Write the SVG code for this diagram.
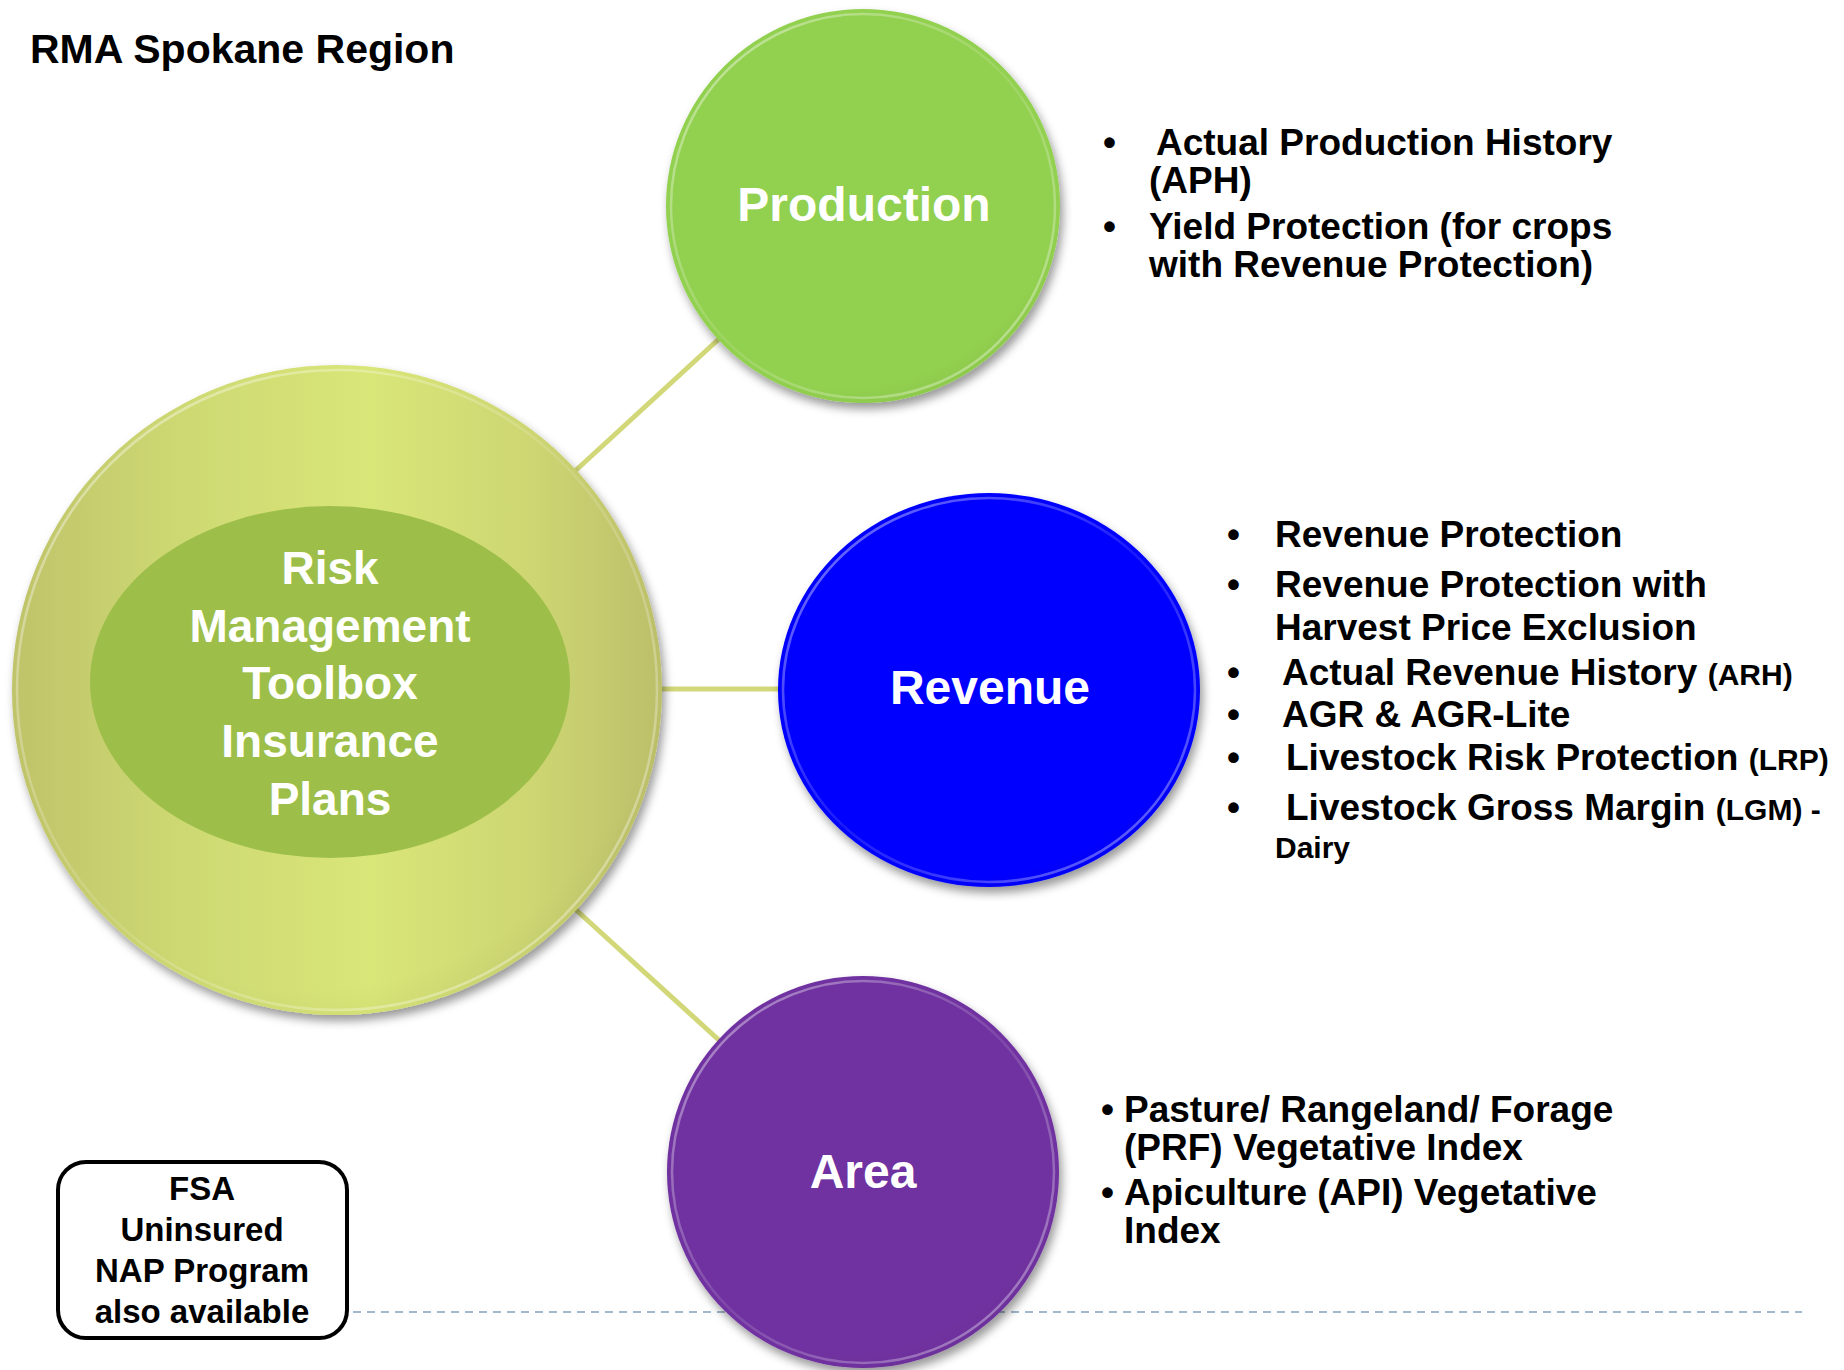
<svg xmlns="http://www.w3.org/2000/svg" width="1844" height="1370" viewBox="0 0 1844 1370">
<style>
text{font-family:"Liberation Sans",Arial,sans-serif;font-weight:bold}
.title{font-size:41px;fill:#000}
.big{font-size:48px;fill:#fff;text-anchor:middle}
.hub{font-size:46px;fill:#fff;text-anchor:middle}
.b{font-size:37px;fill:#000}
.s{font-size:30px}
.fsa{font-size:33px;fill:#000;text-anchor:middle}
.conn{stroke:#d2d878;stroke-width:5;fill:none}
.rim{fill:none;stroke:url(#rimg);stroke-width:2.5}
</style>
<defs>
<filter id="sh" x="-20%" y="-20%" width="140%" height="140%">
<feDropShadow dx="3" dy="6" stdDeviation="5" flood-color="#000" flood-opacity="0.4"/>
</filter>
<linearGradient id="hubg" x1="0" y1="0" x2="1" y2="0">
<stop offset="0" stop-color="#bfc36a"/>
<stop offset="0.25" stop-color="#cdd872"/>
<stop offset="0.55" stop-color="#d9e678"/>
<stop offset="0.8" stop-color="#cdd672"/>
<stop offset="1" stop-color="#bcbf6a"/>
</linearGradient>
<linearGradient id="rimg" x1="0" y1="0" x2="1" y2="1">
<stop offset="0" stop-color="#fff" stop-opacity="0.5"/>
<stop offset="0.5" stop-color="#fff" stop-opacity="0.1"/>
<stop offset="1" stop-color="#fff" stop-opacity="0.45"/>
</linearGradient>
<radialGradient id="gloss" cx="0.45" cy="0.4" r="0.7">
<stop offset="0.8" stop-color="#000" stop-opacity="0"/>
<stop offset="1" stop-color="#000" stop-opacity="0.08"/>
</radialGradient>
</defs>
<rect width="1844" height="1370" fill="#fff"/>
<text class="title" x="30" y="63">RMA Spokane Region</text>
<line x1="353" y1="1312" x2="1802" y2="1312" stroke="#a3b8cc" stroke-width="2" stroke-dasharray="8 6"/>
<g id="connectors">
<line class="conn" x1="574" y1="472" x2="721" y2="337"/>
<line class="conn" x1="662" y1="689" x2="780" y2="689"/>
<line class="conn" x1="574" y1="908" x2="721" y2="1042"/>
</g>
<g id="hub">
<circle cx="337" cy="690" r="325" fill="url(#hubg)" filter="url(#sh)"/>
<circle cx="337" cy="690" r="325" fill="url(#gloss)"/>
<circle class="rim" cx="337" cy="690" r="320"/>
<ellipse cx="330" cy="682" rx="240" ry="176" fill="#9dbf4a"/>
<text class="hub" x="330" y="584">Risk</text>
<text class="hub" x="330" y="642">Management</text>
<text class="hub" x="330" y="699">Toolbox</text>
<text class="hub" x="330" y="757">Insurance</text>
<text class="hub" x="330" y="815">Plans</text>
</g>
<g id="production">
<circle cx="863" cy="206" r="197" fill="#92d050" filter="url(#sh)"/>
<circle cx="863" cy="206" r="197" fill="url(#gloss)"/>
<circle class="rim" cx="863" cy="206" r="192"/>
<text class="big" x="864" y="221">Production</text>
</g>
<g id="production-list">
<text class="b" x="1103" y="155">•</text>
<text class="b" x="1156" y="155">Actual Production History</text>
<text class="b" x="1149" y="193">(APH)</text>
<text class="b" x="1103" y="239">•</text>
<text class="b" x="1149" y="239">Yield Protection (for crops</text>
<text class="b" x="1149" y="277">with Revenue Protection)</text>
</g>
<g id="revenue">
<ellipse cx="989" cy="690" rx="211" ry="197" fill="#0000ff" filter="url(#sh)"/>
<ellipse cx="989" cy="690" rx="211" ry="197" fill="url(#gloss)"/>
<ellipse class="rim" cx="989" cy="690" rx="206" ry="192"/>
<text class="big" x="990" y="704">Revenue</text>
</g>
<g id="revenue-list">
<text class="b" x="1227" y="547">•</text>
<text class="b" x="1275" y="547">Revenue Protection</text>
<text class="b" x="1227" y="597">•</text>
<text class="b" x="1275" y="597">Revenue Protection with</text>
<text class="b" x="1275" y="640">Harvest Price Exclusion</text>
<text class="b" x="1227" y="685">•</text>
<text class="b" x="1282" y="685">Actual Revenue History <tspan class="s">(ARH)</tspan></text>
<text class="b" x="1227" y="727">•</text>
<text class="b" x="1282" y="727">AGR &amp; AGR-Lite</text>
<text class="b" x="1227" y="770">•</text>
<text class="b" x="1286" y="770">Livestock Risk Protection <tspan class="s">(LRP)</tspan></text>
<text class="b" x="1227" y="820">•</text>
<text class="b" x="1286" y="820">Livestock Gross Margin <tspan class="s">(LGM) -</tspan></text>
<text class="b s" x="1275" y="858">Dairy</text>
</g>
<g id="area">
<circle cx="863" cy="1172" r="196" fill="#7030a0" filter="url(#sh)"/>
<circle cx="863" cy="1172" r="196" fill="url(#gloss)"/>
<circle class="rim" cx="863" cy="1172" r="191"/>
<text class="big" x="863" y="1188">Area</text>
</g>
<g id="area-list">
<text class="b" x="1101" y="1122">•</text>
<text class="b" x="1124" y="1122">Pasture/ Rangeland/ Forage</text>
<text class="b" x="1124" y="1160">(PRF) Vegetative Index</text>
<text class="b" x="1101" y="1205">•</text>
<text class="b" x="1124" y="1205">Apiculture (API) Vegetative</text>
<text class="b" x="1124" y="1243">Index</text>
</g>
<g id="fsa">
<rect x="58" y="1162" width="289" height="176" rx="28" fill="#fff" stroke="#000" stroke-width="4"/>
<text class="fsa" x="202" y="1200">FSA</text>
<text class="fsa" x="202" y="1241">Uninsured</text>
<text class="fsa" x="202" y="1282">NAP Program</text>
<text class="fsa" x="202" y="1323">also available</text>
</g>
</svg>
